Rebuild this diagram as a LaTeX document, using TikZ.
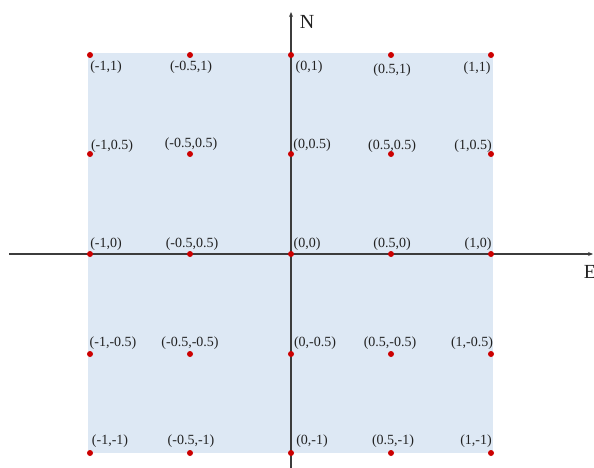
\documentclass[tikz,border=0pt]{standalone}
\usepackage{fontspec}
\setmainfont{Liberation Serif}
\usetikzlibrary{arrows.meta}
\definecolor{fillblue}{RGB}{221,232,244}
\definecolor{dotred}{RGB}{204,0,0}
\definecolor{axisgray}{RGB}{60,60,60}
\definecolor{txt}{RGB}{34,34,34}
\tikzset{
  pt/.style={circle,fill=dotred,inner sep=0pt,minimum size=6pt},
  lbl/.style={inner sep=0pt,text=txt,font=\fontsize{14}{16}\selectfont},
  axlbl/.style={inner sep=0pt,text=txt,font=\fontsize{20}{22}\selectfont},
  axis/.style={draw=axisgray,line width=1.3pt,-{Stealth[length=5pt,width=4pt]}}
}
\begin{document}
\begin{tikzpicture}[x=1pt,y=-1pt]
\useasboundingbox (0,0) rectangle (594,468);
\fill[fillblue] (88,53) rectangle (493,453);
% axes
\coordinate (xs) at (9,254);
\coordinate (xe) at (593,254);
\coordinate (ys) at (291,470);
\coordinate (ye) at (291,12);
\draw[axis] (xs) -- (xe);
\draw[axis] (ys) -- (ye);
\node[axlbl] (N) at (307,22) {N};
\node[axlbl] (E) at (590,272) {E};
% points
\foreach \i/\x in {a/90,b/190,c/291,d/391,e/491}{
  \foreach \j/\y in {1/55,2/154,3/254,4/354,5/453}{
    \node[pt] (p\i\j) at (\x,\y) {};
  }
}
% labels row 1
\node[lbl] (la1) at (106,67) {(-1,1)};
\node[lbl] (lb1) at (191,67) {(-0.5,1)};
\node[lbl] (lc1) at (309,67) {(0,1)};
\node[lbl] (ld1) at (392,70) {(0.5,1)};
\node[lbl] (le1) at (477,68) {(1,1)};
% row 2
\node[lbl] (la2) at (112,146) {(-1,0.5)};
\node[lbl] (lb2) at (191,144) {(-0.5,0.5)};
\node[lbl] (lc2) at (312,145) {(0,0.5)};
\node[lbl] (ld2) at (392,146) {(0.5,0.5)};
\node[lbl] (le2) at (473,146) {(1,0.5)};
% row 3
\node[lbl] (la3) at (106,244) {(-1,0)};
\node[lbl] (lb3) at (192,244) {(-0.5,0.5)};
\node[lbl] (lc3) at (307,244) {(0,0)};
\node[lbl] (ld3) at (392,244) {(0.5,0)};
\node[lbl] (le3) at (478,244) {(1,0)};
% row 4
\node[lbl] (la4) at (113,343) {(-1,-0.5)};
\node[lbl] (lb4) at (190,343) {(-0.5,-0.5)};
\node[lbl] (lc4) at (315,343) {(0,-0.5)};
\node[lbl] (ld4) at (390,343) {(0.5,-0.5)};
\node[lbl] (le4) at (472,343) {(1,-0.5)};
% row 5
\node[lbl] (la5) at (110,441) {(-1,-1)};
\node[lbl] (lb5) at (191,441) {(-0.5,-1)};
\node[lbl] (lc5) at (312,441) {(0,-1)};
\node[lbl] (ld5) at (393,441) {(0.5,-1)};
\node[lbl] (le5) at (476,441) {(1,-1)};
\end{tikzpicture}
\end{document}
